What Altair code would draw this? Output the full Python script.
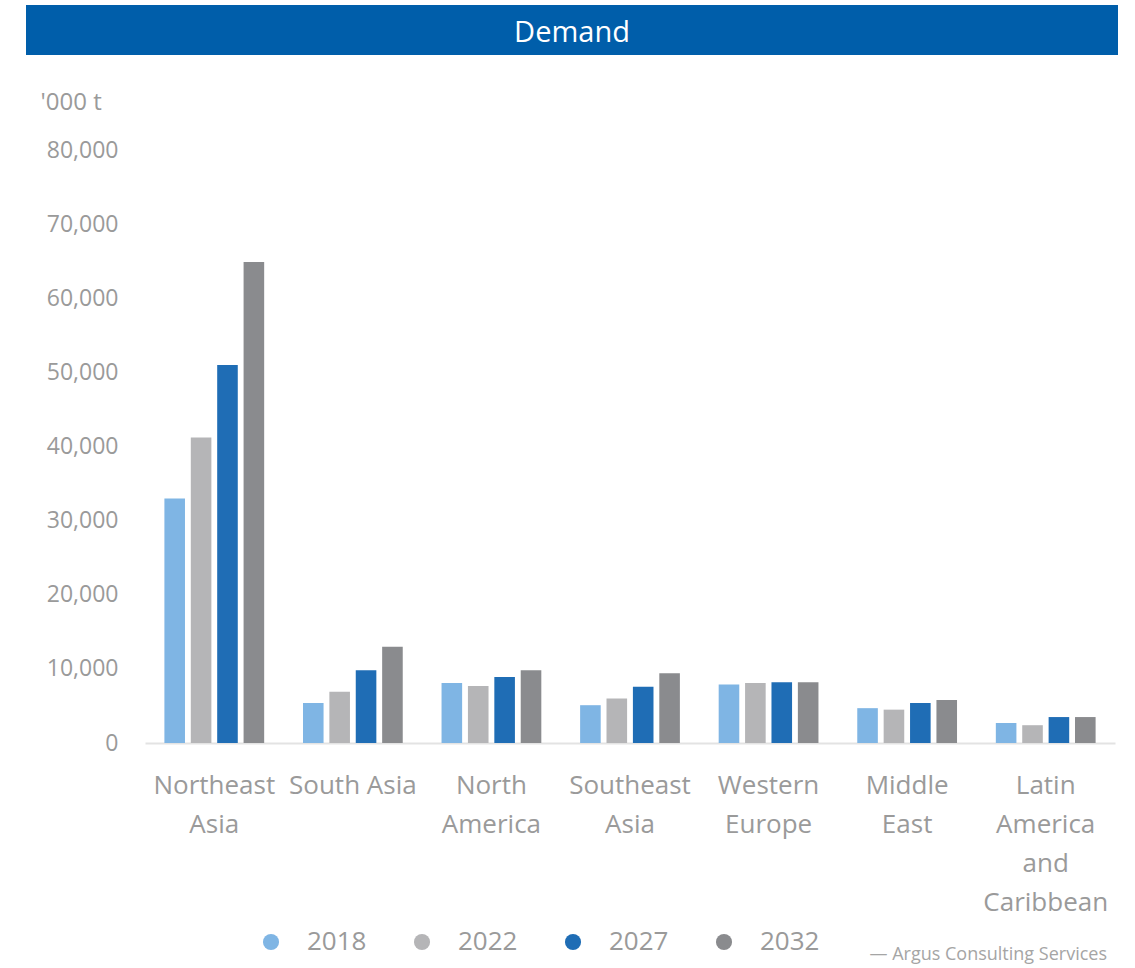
import altair as alt
import pandas as pd

regions = ["Northeast Asia", "South Asia", "North America", "Southeast Asia",
           "Western Europe", "Middle East", "Latin America and Caribbean"]
region_labels = ["Northeast|Asia", "South Asia", "North|America", "Southeast|Asia",
                 "Western|Europe", "Middle|East", "Latin|America|and|Caribbean"]
years = ["2018", "2022", "2027", "2032"]
v2018 = [33000, 5400, 8100, 5100, 7900, 4700, 2700]
v2022 = [41200, 6900, 7700, 6000, 8100, 4500, 2400]
v2027 = [51000, 9800, 8900, 7600, 8200, 5400, 3500]
v2032 = [64900, 13000, 9800, 9400, 8200, 5800, 3500]
colors = ["#7fb5e4", "#b5b5b7", "#1f6db5", "#8a8b8e"]

rows = []
for i, lab in enumerate(region_labels):
    for y, vals in zip(years, [v2018, v2022, v2027, v2032]):
        rows.append({"region": lab, "year": y, "value": vals[i]})
df = pd.DataFrame(rows)

FONT = "Open Sans"
GREY = "#9a9a9a"

bars = alt.Chart(df).mark_bar().encode(
    x=alt.X("region:N", sort=region_labels,
            scale=alt.Scale(paddingInner=0.28, paddingOuter=0.14),
            axis=alt.Axis(title=None, labelAngle=0, ticks=False,
                          labelExpr="split(datum.label, '|')",
                          labelFontSize=26, labelColor=GREY, labelFont=FONT,
                          labelLineHeight=39, labelPadding=29,
                          domainColor="#e3e3e3", domainWidth=2,
                          labelBaseline="top", labelOverlap=False)),
    xOffset=alt.XOffset("year:N", sort=years, scale=alt.Scale(paddingInner=0.22)),
    y=alt.Y("value:Q", scale=alt.Scale(domain=[0, 80000]),
            axis=alt.Axis(title="'000 t", titleAngle=0, titleX=-105, titleY=-48,
                          titleAlign="left", titleBaseline="middle",
                          titleFontSize=24, titleFontWeight="normal",
                          titleColor=GREY, titleFont=FONT,
                          values=[0, 10000, 20000, 30000, 40000, 50000, 60000, 70000, 80000],
                          format=",.0f", labelFontSize=23, labelColor=GREY,
                          labelFont=FONT, labelPadding=27, ticks=False,
                          domain=False, grid=False)),
    color=alt.Color("year:N", sort=years,
                    scale=alt.Scale(domain=years, range=colors),
                    legend=alt.Legend(title=None, orient="none", direction="horizontal",
                                      legendX=113, legendY=779,
                                      symbolType="circle", symbolSize=260,
                                      labelFontSize=26, labelColor=GREY, labelFont=FONT,
                                      labelOffset=23, columnPadding=42,
                                      symbolStrokeWidth=0)),
)

banner = alt.Chart(pd.DataFrame({"t": ["Demand"]})).mark_rect(color="#005eaa").encode(
    x=alt.value(-119), x2=alt.value(973), y=alt.value(-145), y2=alt.value(-95)
)
banner_text = alt.Chart(pd.DataFrame({"t": ["Demand"]})).mark_text(
    color="white", fontSize=29, font=FONT, align="center", baseline="middle"
).encode(text="t:N", x=alt.value(427), y=alt.value(-117))

source = alt.Chart(pd.DataFrame({"t": ["— Argus Consulting Services"]})).mark_text(
    color="#a5a5a5", fontSize=18, font=FONT, align="right", baseline="middle"
).encode(text="t:N", x=alt.value(962), y=alt.value(805))

chart = alt.layer(banner, banner_text, bars, source).properties(
    width=970, height=593,
    autosize=alt.AutoSizeParams(type="none"),
    padding={"left": 145, "top": 150, "right": 20, "bottom": 225},
).configure(font=FONT, background="white").configure_view(stroke=None)

chart.save("out.html", embed_options={"renderer": "svg", "actions": False})
